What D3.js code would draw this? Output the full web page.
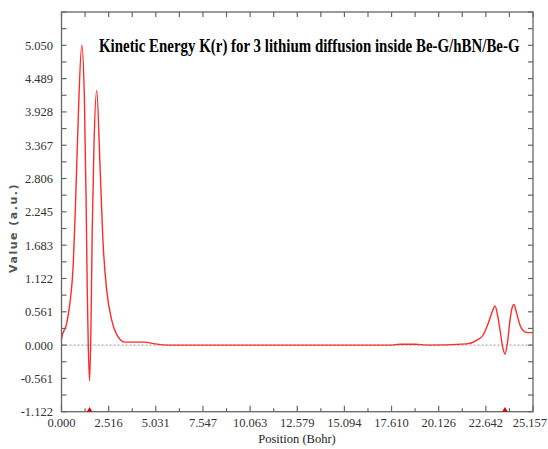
<!DOCTYPE html>
<html><head><meta charset="utf-8">
<script src="https://cdn.jsdelivr.net/npm/d3@7"></script>
<style>body{margin:0;background:#fff}svg{display:block}</style>
</head><body>
<script>
const positions = [0.00,0.01,0.28,0.45,0.63,0.76,0.90,1.08,1.22,1.31,1.38,1.43,1.50,1.57,1.64,1.73,1.88,2.05,2.23,2.41,2.68,3.03,3.39,4.46,4.99,5.68,17.63,18.06,18.86,19.50,21.62,22.15,22.50,22.77,22.98,23.13,23.25,23.40,23.52,23.66,23.79,23.93,24.05,24.14,24.29,24.46,24.64,24.85,25.09,25.157];
const kinetic   = [0.10,0.12,0.37,0.71,1.38,2.49,3.90,5.05,4.17,2.49,0.81,-0.03,-0.60,0.25,1.94,3.33,4.29,3.06,1.65,0.93,0.42,0.135,0.05,0.05,0.02,0.0,0.0,0.015,0.015,0.0,0.02,0.08,0.17,0.37,0.56,0.66,0.53,0.25,0.0,-0.15,0.03,0.42,0.64,0.685,0.53,0.34,0.24,0.21,0.21,0.21];
const minimaPositions = [1.50, 23.66];
const xTickLabels = ["0.000","2.516","5.031","7.547","10.063","12.579","15.094","17.610","20.126","22.642","25.157"];
const yTickLabels = ["-1.122","-0.561","0.000","0.561","1.122","1.683","2.245","2.806","3.367","3.928","4.489","5.050"];
const title = "Kinetic Energy K(r) for 3 lithium diffusion inside Be-G/hBN/Be-G";

const W = 548, H = 449;
const L = 61.5, R = 533, T = 12, B = 411.7;
const svg = d3.select("body").append("svg").attr("width", W).attr("height", H);

const x = d3.scaleLinear().domain([0, 25.157]).range([L, R]);
const y = d3.scaleLinear().domain([-1.122, 5.611]).range([B, T]);

const xMajor = xTickLabels.map(Number);
const yMajor = yTickLabels.map(Number);
const xMinor = xMajor.slice(0, -1).map((v, i) => (v + xMajor[i + 1]) / 2);
const yMinor = yMajor.map(v => v + 0.2805).filter(v => v < 5.6);

const axisColor = "#666";
// zero line
svg.append("line").attr("x1", L).attr("x2", R).attr("y1", y(0)).attr("y2", y(0))
  .attr("stroke", "#aaa").attr("stroke-width", 1.2).attr("stroke-dasharray", "2,2");

// curve
const line = d3.line().x((d, i) => x(positions[i])).y(d => y(d)).curve(d3.curveMonotoneX);
svg.append("path").datum(kinetic).attr("d", line).attr("fill", "none")
  .attr("stroke", "#ff2a2a").attr("stroke-width", 1.4);

// frame
svg.append("rect").attr("x", L).attr("y", T).attr("width", R - L).attr("height", B - T)
  .attr("fill", "none").attr("stroke", axisColor).attr("stroke-width", 1.3);

const g = svg.append("g").attr("stroke", axisColor).attr("stroke-width", 1.2);
xMajor.forEach(v => {
  g.append("line").attr("x1", x(v)).attr("x2", x(v)).attr("y1", B).attr("y2", B - 6);
  g.append("line").attr("x1", x(v)).attr("x2", x(v)).attr("y1", T).attr("y2", T + 5);
});
xMinor.forEach(v => {
  g.append("line").attr("x1", x(v)).attr("x2", x(v)).attr("y1", B).attr("y2", B - 3.5);
  g.append("line").attr("x1", x(v)).attr("x2", x(v)).attr("y1", T).attr("y2", T + 5);
});
yMajor.concat(yMinor).concat([5.611]).forEach(v => {
  g.append("line").attr("x1", L).attr("x2", L + 5).attr("y1", y(v)).attr("y2", y(v));
  g.append("line").attr("x1", R).attr("x2", R - 5).attr("y1", y(v)).attr("y2", y(v));
});

// tick labels
svg.selectAll(".xl").data(xTickLabels).enter().append("text")
  .attr("x", (d, i) => i === xTickLabels.length - 1 ? 547 : x(+d)).attr("y", 427)
  .attr("text-anchor", (d, i) => i === xTickLabels.length - 1 ? "end" : "middle")
  .attr("font-family", "Liberation Serif, serif").attr("font-size", 12.5).attr("fill", "#333")
  .text(d => d);
svg.selectAll(".yl").data(yTickLabels).enter().append("text")
  .attr("x", 53).attr("y", d => y(+d) + 4.5).attr("text-anchor", "end")
  .attr("font-family", "Liberation Serif, serif").attr("font-size", 12.5).attr("fill", "#333")
  .text(d => d);

// minima markers
svg.selectAll(".mk").data(minimaPositions).enter().append("path")
  .attr("d", d3.symbol().type(d3.symbolTriangle).size(14))
  .attr("transform", d => `translate(${x(d)},${B - 1.5})`)
  .attr("fill", "#e00000");

// axis titles
svg.append("text").attr("x", 297).attr("y", 443).attr("text-anchor", "middle")
  .attr("font-family", "Liberation Serif, serif").attr("font-size", 12.5).attr("fill", "#222")
  .text("Position (Bohr)");
svg.append("text").attr("transform", "translate(17,228) rotate(-90)").attr("text-anchor", "middle")
  .attr("font-family", "DejaVu Sans, sans-serif").attr("font-weight", "bold").attr("font-size", 11)
  .attr("letter-spacing", 1.5).attr("fill", "#555")
  .text("Value (a.u.)");

// title (horizontally condensed via scale)
const tg = svg.append("g");
const tt = tg.append("text").attr("x", 0).attr("y", 0)
  .attr("font-family", "Liberation Serif, serif").attr("font-weight", "bold").attr("font-size", 18)
  .attr("fill", "#000").text(title);
const natural = tt.node().getComputedTextLength();
const sx = Math.min(1, 421 / natural);
tg.attr("transform", `translate(99,52) scale(${sx},1)`);
</script>
</body></html>
